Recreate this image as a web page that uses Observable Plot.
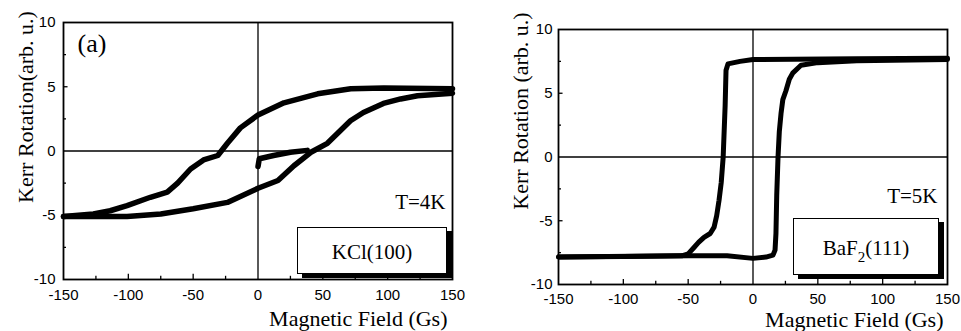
<!DOCTYPE html>
<html><head><meta charset="utf-8">
<script src="https://cdn.jsdelivr.net/npm/d3@7"></script>
<script src="https://cdn.jsdelivr.net/npm/@observablehq/plot@0.6"></script>
<style>
body{margin:0;background:#fff;}
#wrap{display:flex;width:961px;height:331px;background:#fff;}
#wrap svg{display:block;}
</style></head><body><div id="wrap"></div>
<script>
// ---------- Data ----------
// Panel (a): KCl(100), T=4K
const fieldA_down = [150, 97, 71.5, 46, 20, 0, -13.6, -23.6, -31, -42, -52, -62, -70, -83, -101, -114, -127, -150];
const kerrA_down  = [4.85, 4.9, 4.85, 4.45, 3.75, 2.8, 1.8, 0.6, -0.35, -0.7, -1.4, -2.5, -3.2, -3.6, -4.25, -4.65, -4.9, -5.1];
const fieldA_up   = [-150, -101, -75, -50, -23.6, 0, 15.4, 27.7, 40.8, 53.5, 63.6, 71.3, 81.3, 96.7, 110, 123, 150];
const kerrA_up    = [-5.1, -5.1, -4.9, -4.5, -4.0, -2.9, -2.3, -1.15, -0.1, 0.6, 1.6, 2.35, 3.0, 3.7, 4.05, 4.3, 4.5];
const fieldA_virgin = [0, 1, 12, 25, 38];
const kerrA_virgin  = [-1.2, -0.6, -0.35, -0.1, 0.05];

// Panel (b): BaF2(111), T=5K
const fieldB_down = [150, 80, 0, -10, -19.3, -20.8, -21.5, -23, -24.5, -26.2, -28, -30, -33, -37.8, -42, -45.5, -50, -55, -150];
const kerrB_down  = [7.75, 7.7, 7.65, 7.5, 7.3, 6.8, 4, 0, -2, -3.4, -4.6, -5.5, -6.0, -6.3, -6.7, -7.1, -7.6, -7.75, -7.85];
const fieldB_up   = [-150, -100, -50, -20, 0, 10, 15.4, 17, 17.7, 18.3, 19.3, 20.3, 21.6, 23, 25.4, 28, 30.8, 37, 50, 80, 150];
const kerrB_up    = [-7.85, -7.8, -7.75, -7.75, -7.95, -7.85, -7.7, -7.3, -6, -3, 0, 2, 3.4, 4.5, 5.2, 6.1, 6.6, 7.2, 7.4, 7.55, 7.65];

// Axes / labels
const xTickLabels = [-150, -100, -50, 0, 50, 100, 150];
const yTickLabels = [-10, -5, 0, 5, 10];
const xMinorTicks = [-125, -100, -75, -50, -25, 25, 50, 75, 100, 125];
const yMinorTicks = [-7.5, -5, -2.5, 2.5, 5, 7.5];
const xLabel = "Magnetic Field (Gs)";
const yLabelA = "Kerr Rotation(arb. u.)";
const yLabelB = "Kerr Rotation (arb. u.)";
const panelTagA = "(a)";
const tempA = "T=4K";
const tempB = "T=5K";
const boxLabelA = "KCl(100)";
const boxLabelB = "BaF2(111)";

const toPts = (xs, ys) => xs.map((x, i) => ({x, y: ys[i]}));
const serif = "'Liberation Serif', 'Times New Roman', serif";

function panel(o) {
  const W = o.width, H = 331;
  const fw = W - o.ml - o.mr, fh = H - o.mt - o.mb;
  const bx = o.box; // box in pixel offsets from frame
  const txt = {fontFamily: serif, fill: "black", textAnchor: "middle", lineAnchor: "middle"};
  return Plot.plot({
    width: W, height: H,
    marginLeft: o.ml, marginRight: o.mr, marginTop: o.mt, marginBottom: o.mb,
    x: {domain: [-150, 150], label: null},
    y: {domain: [-10, 10], label: null},
    style: {fontFamily: "'Liberation Sans', Arial, sans-serif", fontSize: "15px", color: "black", background: "white"},
    marks: [
      Plot.ruleY([0], {stroke: "black", strokeWidth: 1.3}),
      Plot.ruleX([0], {stroke: "black", strokeWidth: 1.3}),
      Plot.ruleX(xMinorTicks, {x: d => d, y1: -10, y2: d => d % 50 === 0 ? -9.6 : -9.75, stroke: "black", strokeWidth: 1.3}),
      Plot.ruleY(yMinorTicks, {y: d => d, x1: -150, x2: d => d % 5 === 0 ? -146.5 : -147.7, stroke: "black", strokeWidth: 1.3}),
      ...o.lines.map(l => Plot.line(l, {x: "x", y: "y", stroke: "black", strokeWidth: o.sw, strokeLinejoin: "round", strokeLinecap: "round"})),
      Plot.frame({stroke: "black", strokeWidth: 1.8}),
      // label box with shadow
      Plot.frame({fill: "black", stroke: "black", insetLeft: bx.l + 5, insetRight: bx.r - 5, insetTop: bx.t + 4, insetBottom: bx.b - 4}),
      Plot.frame({fill: "white", stroke: "black", strokeWidth: 1, insetLeft: bx.l, insetRight: bx.r, insetTop: bx.t, insetBottom: bx.b}),
      Plot.text([o.boxLabel], {...txt, frameAnchor: "bottom-right", dx: -(bx.r + (fw - bx.l - bx.r) / 2), dy: -(bx.b + (fh - bx.t - bx.b) / 2) + 1.5, fontSize: 21}),
      Plot.text([o.temp], {...txt, frameAnchor: "bottom-right", textAnchor: "end", dx: o.tempDx, dy: o.tempDy, fontSize: 21}),
      ...(o.tag ? [Plot.text([o.tag], {...txt, frameAnchor: "top-left", textAnchor: "start", dx: 14, dy: 21, fontSize: 26})] : []),
      Plot.axisX({ticks: xTickLabels, tickSize: 0, tickPadding: o.xPad, tickFormat: d => String(d), label: null, fontSize: 15}),
      Plot.axisY({ticks: yTickLabels, tickSize: 0, tickPadding: o.yPad, tickFormat: d => String(d), label: null, fontSize: 15}),
      Plot.text([xLabel], {...txt, frameAnchor: "bottom-right", textAnchor: "end", dx: o.xlDx, dy: o.xlDy, fontSize: 22}),
      Plot.text([o.yLabel], {...txt, frameAnchor: "left", rotate: -90, dx: o.ylDx, dy: o.ylDy, fontSize: 22})
    ]
  });
}

const svgA = panel({
  width: 480, ml: 63, mr: 28, mt: 22, mb: 52, sw: 5.5,
  lines: [toPts(fieldA_down, kerrA_down), toPts(fieldA_up, kerrA_up), toPts(fieldA_virgin, kerrA_virgin)],
  box: {l: 234, r: 6, t: 205, b: 6},
  boxLabel: boxLabelA, temp: tempA, tempDx: -7, tempDy: -77, tag: panelTagA,
  xPad: 10, yPad: 8, xlDx: -5, xlDy: 39, ylDx: -38, ylDy: -44, yLabel: yLabelA
});
const svgB = panel({
  width: 481, ml: 78, mr: 14, mt: 29, mb: 47, sw: 5,
  lines: [toPts(fieldB_down, kerrB_down), toPts(fieldB_up, kerrB_up)],
  box: {l: 235, r: 9, t: 189, b: 10},
  boxLabel: boxLabelB, temp: tempB, tempDx: -10, tempDy: -88, tag: null,
  xPad: 9, yPad: 6, xlDx: -4, xlDy: 35, ylDx: -38, ylDy: -46, yLabel: yLabelB
});

// subscript the "2" in BaF2(111)
d3.select(svgB).selectAll("text").filter(function () { return this.textContent === boxLabelB; }).each(function () {
  const t = d3.select(this);
  t.text(null);
  t.append("tspan").text(boxLabelB.slice(0, 3));
  t.append("tspan").attr("dy", "7px").attr("font-size", "15px").text(boxLabelB.slice(3, 4));
  t.append("tspan").attr("dy", "-7px").text(boxLabelB.slice(4));
});

const wrap = document.getElementById("wrap");
wrap.appendChild(svgA);
wrap.appendChild(svgB);
</script>
</body></html>
